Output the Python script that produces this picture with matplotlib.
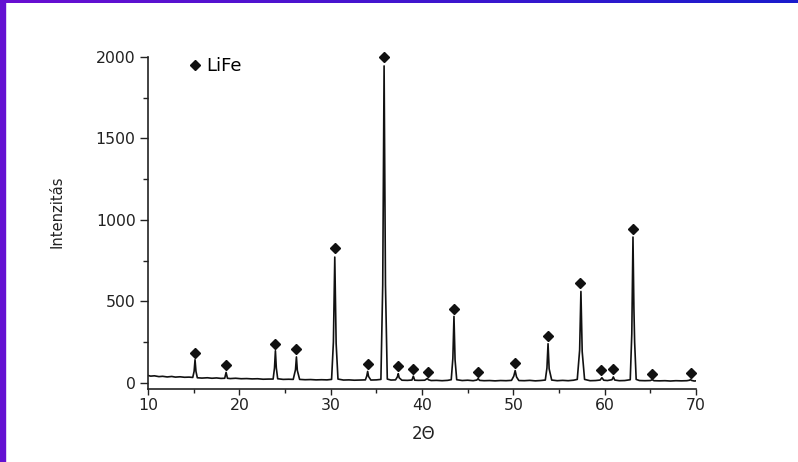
import numpy as np
import matplotlib
matplotlib.use('Agg')
import matplotlib.pyplot as plt
from matplotlib.patches import Rectangle

# police large, proche du rendu étiré de la diapo
plt.rcParams['font.family'] = ['DejaVu Sans']

# XRD trace: (2theta, intensity)
trace = [
    (10.0, 44), (10.3, 40), (10.7, 42), (11.2, 37), (11.6, 39), (12.1, 35), (12.6, 38),
    (13.0, 34), (13.5, 36), (14.0, 33), (14.5, 34), (14.9, 32),
    (15.05, 70), (15.15, 141), (15.25, 70), (15.4, 30),
    (15.9, 28), (16.5, 30), (17.0, 27), (17.5, 29), (18.0, 26), (18.4, 27),
    (18.55, 63), (18.7, 27),
    (19.0, 25), (19.6, 27), (20.2, 24), (20.8, 25), (21.4, 23), (22.0, 24), (22.6, 21),
    (23.2, 22), (23.7, 22),
    (23.85, 90), (23.95, 196), (24.05, 90), (24.2, 24),
    (24.8, 20), (25.4, 21), (25.9, 20),
    (26.15, 80), (26.25, 158), (26.35, 75), (26.6, 20),
    (27.2, 18), (27.8, 19), (28.4, 17), (29.0, 18), (29.6, 17), (30.1, 20),
    (30.3, 250), (30.45, 771), (30.6, 240), (30.8, 22),
    (31.4, 16), (32.0, 17), (32.6, 15), (33.2, 16), (33.8, 17),
    (33.95, 40), (34.05, 69), (34.15, 38), (34.4, 16),
    (35.0, 17), (35.5, 20), (35.7, 600), (35.85, 1945), (36.0, 600), (36.2, 22),
    (36.6, 16), (37.1, 17), (37.3, 35), (37.4, 55), (37.5, 30), (37.8, 15),
    (38.4, 14), (38.9, 16), (39.05, 40), (39.2, 15),
    (39.6, 14), (40.3, 15), (40.5, 22), (40.6, 26), (40.7, 18), (41.0, 13),
    (41.6, 14), (42.2, 12), (42.8, 14), (43.2, 18),
    (43.38, 150), (43.5, 407), (43.62, 140), (43.8, 18),
    (44.4, 13), (45.0, 15), (45.6, 12), (46.0, 16), (46.15, 25), (46.3, 14),
    (46.8, 12), (47.4, 13), (48.0, 11), (48.6, 13), (49.2, 12), (49.8, 14),
    (50.05, 40), (50.2, 74), (50.35, 35), (50.6, 13),
    (51.2, 12), (51.8, 14), (52.4, 11), (53.0, 13), (53.5, 16),
    (53.68, 90), (53.8, 239), (53.92, 85), (54.2, 16),
    (54.8, 12), (55.4, 14), (56.0, 12), (56.6, 15), (57.0, 20),
    (57.26, 200), (57.4, 560), (57.54, 190), (57.8, 20),
    (58.4, 12), (59.0, 13), (59.5, 16), (59.7, 30), (59.9, 15),
    (60.3, 13), (60.8, 18), (60.95, 35), (61.1, 16),
    (61.6, 12), (62.2, 13), (62.8, 18),
    (62.97, 300), (63.1, 894), (63.2, 460), (63.28, 250), (63.45, 20),
    (63.8, 13), (64.4, 12), (65.0, 13), (65.2, 18), (65.4, 12),
    (66.0, 11), (66.6, 12), (67.2, 10), (67.8, 12), (68.4, 11), (69.0, 12),
    (69.3, 15), (69.4, 20), (69.5, 14), (69.8, 10), (70.0, 11),
]

# LiFe reflections (diamond markers)
marker_x = [15.18, 18.58, 23.94, 26.24, 30.45, 34.06, 35.84, 37.42, 39.06, 40.63,
            43.52, 46.14, 50.19, 53.79, 57.32, 59.62, 60.93, 63.08, 65.19, 69.42]
marker_y = [182, 109, 239, 204, 828, 115, 2000, 102, 86, 67,
            454, 63, 121, 284, 612, 80, 86, 945, 55, 60]

x_ticks = [10, 20, 30, 40, 50, 60, 70]
y_ticks = [0, 500, 1000, 1500, 2000]

tx = np.array([p[0] for p in trace])
ty = np.array([p[1] for p in trace])

fig = plt.figure(figsize=(7.98, 4.62), dpi=100)

# cadre violet/bleu de la diapo
grad = np.linspace(0, 1, 256).reshape(1, -1)
cmap = matplotlib.colors.LinearSegmentedColormap.from_list('bord', ['#6a0fd2', '#1a1ccc'])
axb = fig.add_axes([0, 1 - 3.5/462, 1, 3.5/462])
axb.imshow(grad, aspect='auto', cmap=cmap)
axb.set_axis_off()
fig.patches.append(Rectangle((0, 0), 5/798, 1, transform=fig.transFigure,
                             color='#6410d2', zorder=5))

ax = fig.add_axes([148/798, 73/462, 548/798, 332/462])
ax.plot(tx, ty, color='#111111', lw=1.2)
ax.plot(marker_x, marker_y, 'D', color='#111111', ms=4.8, ls='none',
        label='LiFe', clip_on=False)

ax.set_xlim(10, 70)
ax.set_ylim(-39, 2000)
ax.set_xticks(x_ticks)
ax.set_yticks(y_ticks)
ax.set_xticks(np.arange(15, 70, 10), minor=True)
ax.set_yticks([250, 750, 1250, 1750], minor=True)

for s in ['top', 'right']:
    ax.spines[s].set_visible(False)
for s in ['left', 'bottom']:
    ax.spines[s].set_linewidth(1.2)
    ax.spines[s].set_color('#222222')
ax.tick_params(which='major', direction='out', length=6, width=1.0,
               labelsize=11.3, pad=3, colors='#222222')
ax.tick_params(axis='x', which='major', length=4, pad=2.5)
ax.tick_params(which='minor', direction='out', length=3.5, width=1.0, colors='#222222')
ax.tick_params(axis='x', which='minor', length=3)

ax.set_xlabel(u'2\u0398', fontsize=12, color='#222222')
ax.set_ylabel(u'Intenzitás', fontsize=10.6, color='#222222')
ax.xaxis.set_label_coords(0.502, -0.108)
ax.yaxis.set_label_coords(-0.153, 0.533)

ax.legend(loc='upper left', bbox_to_anchor=(0.076, 1.0), frameon=False,
          fontsize=13, handlelength=0.6, handletextpad=0.3,
          borderpad=0, borderaxespad=0)

fig.savefig('out.png', dpi=100)
